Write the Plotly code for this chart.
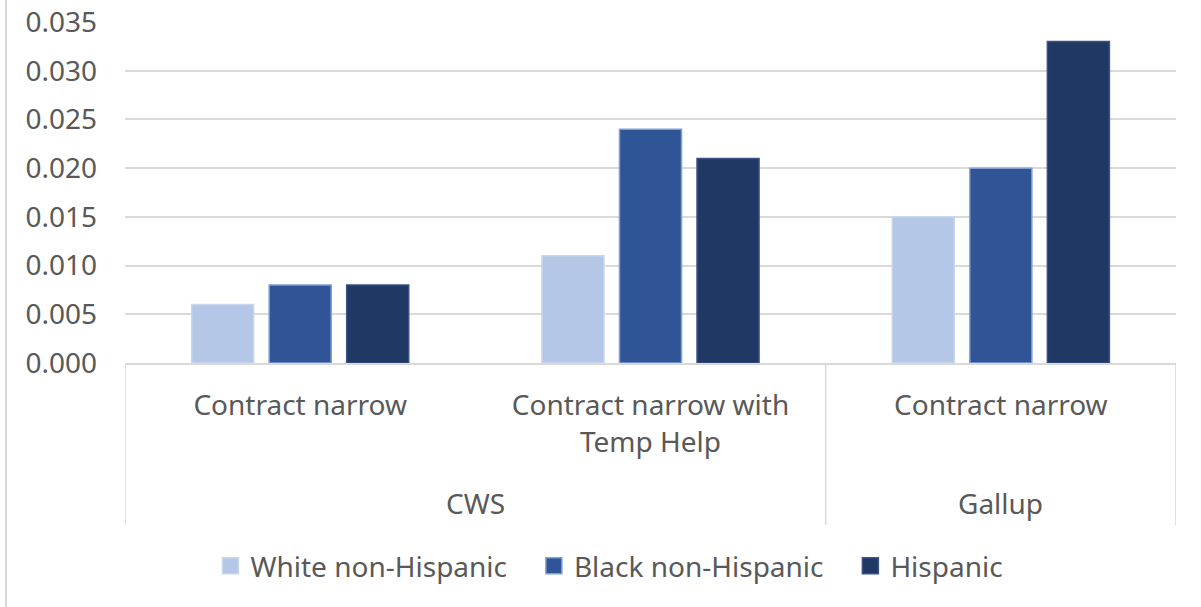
import plotly.graph_objects as go

outer_labels = ["CWS", "CWS", "Gallup"]
inner_labels = ["Contract narrow", "Contract narrow with<br>Temp Help", "Contract narrow"]
series_names = ["White non-Hispanic", "Black non-Hispanic", "Hispanic"]
white_vals = [0.006, 0.011, 0.015]
black_vals = [0.008, 0.024, 0.020]
hisp_vals = [0.008, 0.021, 0.033]
y_ticks = [0.000, 0.005, 0.010, 0.015, 0.020, 0.025, 0.030, 0.035]

colors = ["#B4C7E7", "#2F5597", "#203864"]
edge_colors = ["#C9D7EE", "#7F9FD6", "#3A5284"]

W, H = 1201, 607
ml, mr, mt, mb = 125, 25, 22, 244
ph = H - mt - mb
pw = W - ml - mr

def py(pix):
    return (H - mb - pix) / ph

def px(pix):
    return (pix - ml) / pw

FS = 28
PAD = "\u00a0" * 3
x = list(range(len(inner_labels)))
fig = go.Figure()
for name, vals, c, ec in zip(series_names, [white_vals, black_vals, hisp_vals], colors, edge_colors):
    fig.add_trace(go.Bar(x=x, y=vals, name=name, showlegend=False,
                         marker=dict(color=c, line=dict(color=ec, width=1.5))))
# legend entries with larger square keys
for name, c, ec in zip(series_names, colors, edge_colors):
    fig.add_trace(go.Scatter(x=[None], y=[None], mode="markers", name=name + PAD, showlegend=True,
                             marker=dict(symbol="square", size=18, color=c, line=dict(color=ec, width=1.5))))

font = "Noto Sans"
grey = "#595959"
line_c = "#D9D9D9"

fig.update_layout(
    width=W, height=H,
    margin=dict(l=ml, r=mr, t=mt, b=mb, autoexpand=False),
    paper_bgcolor="white", plot_bgcolor="white",
    barmode="group", bargap=0.336, bargroupgap=0.2,
    font=dict(family=font, size=FS, color=grey),
    showlegend=True,
    legend=dict(orientation="h", x=px(222) - 0.011, xanchor="left", y=py(566), yanchor="middle",
                font=dict(size=FS, color=grey), itemwidth=30, traceorder="normal"),
)
fig.update_yaxes(range=[0, 0.035], tickvals=y_ticks, tickformat=".3f", showgrid=True,
                 gridcolor=line_c, gridwidth=1.5, zeroline=False, showline=False, automargin=False,
                 ticks="", ticklabelstandoff=27, tickfont=dict(size=FS, color=grey))
fig.update_xaxes(range=[-0.5, len(x) - 0.5], tickvals=x, ticktext=inner_labels, showgrid=False,
                 showline=True, linecolor=line_c, linewidth=1.5, ticks="", ticklabelstandoff=17,
                 automargin=False, tickfont=dict(size=FS, color=grey), tickangle=0)

# outer group labels and dividers derived from the category lists
groups = []
for i, g in enumerate(outer_labels):
    if groups and groups[-1][0] == g:
        groups[-1][2] = i
    else:
        groups.append([g, i, i])
bounds = set()
for g, s, e in groups:
    fig.add_annotation(x=(s + e) / 2, y=py(503), xref="x", yref="paper", text=g, showarrow=False,
                       yanchor="middle", font=dict(size=FS, color=grey))
    bounds.add(s - 0.5)
    bounds.add(e + 0.5)
for b in sorted(bounds):
    fig.add_shape(type="line", x0=b, x1=b, xref="x", y0=0, y1=py(525), yref="paper",
                  line=dict(color=line_c, width=1.5))

# chart area left border
fig.add_shape(type="line", x0=px(6), x1=px(6), xref="paper", y0=py(0), y1=py(607), yref="paper",
              line=dict(color=line_c, width=2))

fig.write_html("out.html", config={"displayModeBar": False},
               post_script="document.body.style.margin='0px';")
